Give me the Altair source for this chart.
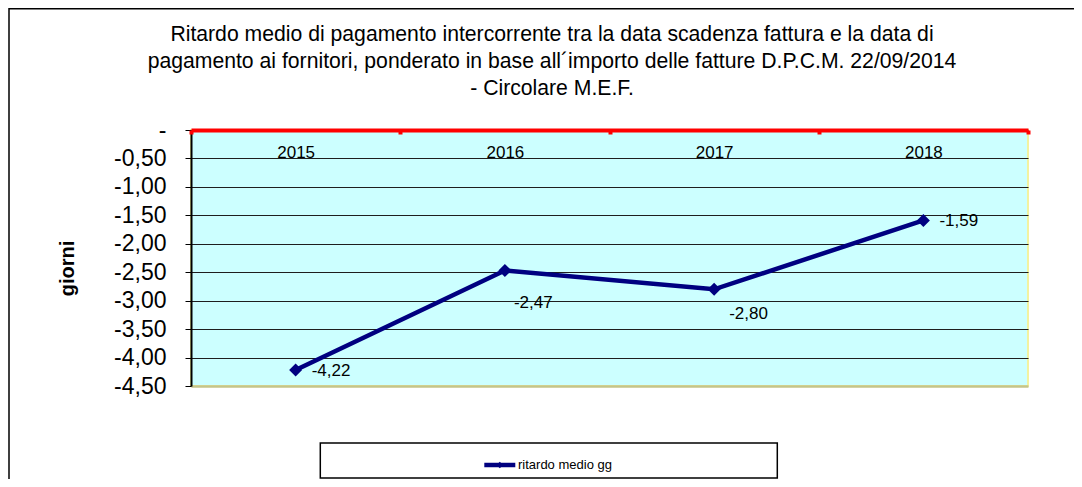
import altair as alt
import pandas as pd

# ---- data ----
years = ["2015", "2016", "2017", "2018"]
ritardo = [-4.22, -2.47, -2.80, -1.59]
y_ticks = [0, -0.5, -1.0, -1.5, -2.0, -2.5, -3.0, -3.5, -4.0, -4.5]
title_lines = [
    "Ritardo medio di pagamento intercorrente tra la data scadenza fattura e la data di",
    "pagamento ai fornitori, ponderato in base all\u00b4importo delle fatture D.P.C.M. 22/09/2014",
    "- Circolare M.E.F.",
]
series_name = "ritardo medio gg"
y_title = "giorni"

# ---- layout ----
W, H = 837, 256
FONT = "Liberation Sans"
NAVY = "#000080"

df = pd.DataFrame({"anno": years, "valore": ritardo})
one = pd.DataFrame({"k": [0]})

FMT = "replace(replace(format({v}, '.2f'), '.', ','), '\u2212', '-')"

x_enc = alt.X(
    "anno:N",
    sort=years,
    bandPosition=0.5,
    scale=alt.Scale(type="band", paddingInner=0, paddingOuter=0),
    axis=alt.Axis(
        orient="bottom", offset=-H, title=None, labelAngle=0, tickBand="extent",
        domainColor="#ff0000", domainWidth=4, tickColor="#ff0000", tickWidth=4, tickSize=4,
        labelFont=FONT, labelFontSize=17, labelColor="black", labelPadding=10,
        grid=False, zindex=1,
    ),
)
y_enc = alt.Y(
    "valore:Q",
    scale=alt.Scale(domain=[-4.5, 0], nice=False, zero=False),
    axis=alt.Axis(
        values=y_ticks,
        labelExpr="datum.value == 0 ? '-\u00a0\u00a0' : " + FMT.format(v="datum.value"),
        labelFont=FONT, labelFontSize=23, labelColor="black", labelPadding=19,
        tickSize=6, tickColor="black", tickWidth=1,
        domainColor="black", domainWidth=2,
        grid=True,
        gridColor=alt.condition("datum.value == -4.5", alt.value("#c4c48a"), alt.value("#1e1e1e")),
        gridWidth=alt.condition("datum.value == -4.5", alt.value(2.5), alt.value(1)),
        title=y_title, titleFont=FONT, titleFontSize=20, titleFontWeight="bold",
        titleColor="black", titleAngle=270, titleAlign="center", titleBaseline="middle",
        titleX=-124, titleY=138,
    ),
)

base = alt.Chart(df)

line = base.mark_line(color=NAVY, strokeWidth=4.5).encode(x=x_enc, y=y_enc)
pts = base.mark_point(shape="diamond", filled=True, color=NAVY, size=170, opacity=1).encode(x=x_enc, y=y_enc)

lab_base = base.transform_calculate(lab=FMT.format(v="datum.valore"))
lab_style = dict(font=FONT, fontSize=17, color="black", align="left", baseline="middle")
lab_right = lab_base.transform_filter(
    alt.FieldOneOfPredicate(field="anno", oneOf=["2015", "2018"])
).mark_text(dx=16, dy=1, **lab_style).encode(x=x_enc, y=y_enc, text="lab:N")
lab_2016 = lab_base.transform_filter(alt.datum.anno == "2016").mark_text(
    dx=9, dy=32, **lab_style).encode(x=x_enc, y=y_enc, text="lab:N")
lab_2017 = lab_base.transform_filter(alt.datum.anno == "2017").mark_text(
    dx=15, dy=25, **lab_style).encode(x=x_enc, y=y_enc, text="lab:N")

# outer chart frame
frame = alt.Chart(one).mark_rect(filled=False, stroke="black", strokeWidth=1.5).encode(
    x=alt.value(-182), y=alt.value(-121.3), x2=alt.value(W + 300), y2=alt.value(H + 300)
)

# title block
title = alt.Chart(one).mark_text(
    font=FONT, fontSize=21.2, lineHeight=27, align="center", baseline="alphabetic", color="black"
).encode(x=alt.value(361), y=alt.value(-89), text=alt.value(title_lines))

# legend box
leg_box = alt.Chart(one).mark_rect(fill="white", stroke="black", strokeWidth=1.5).encode(
    x=alt.value(129.3), x2=alt.value(586.3), y=alt.value(313), y2=alt.value(348)
)
leg_line = alt.Chart(one).mark_rule(color=NAVY, strokeWidth=4.5).encode(
    x=alt.value(293.3), x2=alt.value(324.3), y=alt.value(335)
)
leg_pt = alt.Chart(one).mark_point(shape="diamond", filled=True, color=NAVY, size=40, opacity=1).encode(
    x=alt.value(308.8), y=alt.value(335)
)
leg_txt = alt.Chart(one).mark_text(
    font=FONT, fontSize=13, align="left", baseline="middle", color="black"
).encode(x=alt.value(327), y=alt.value(335), text=alt.value(series_name))

chart = alt.layer(
    frame, title, line, pts, lab_right, lab_2016, lab_2017, leg_box, leg_line, leg_pt, leg_txt
).properties(
    width=W, height=H,
    autosize=alt.AutoSizeParams(type="none"),
    padding={"left": 183, "top": 122, "right": 46, "bottom": 93},
    background="white",
).configure_view(
    fill="#ccffff", stroke="#f2f2a0", strokeWidth=2
)

chart.save("out.html", embed_options={"renderer": "svg", "actions": False})
